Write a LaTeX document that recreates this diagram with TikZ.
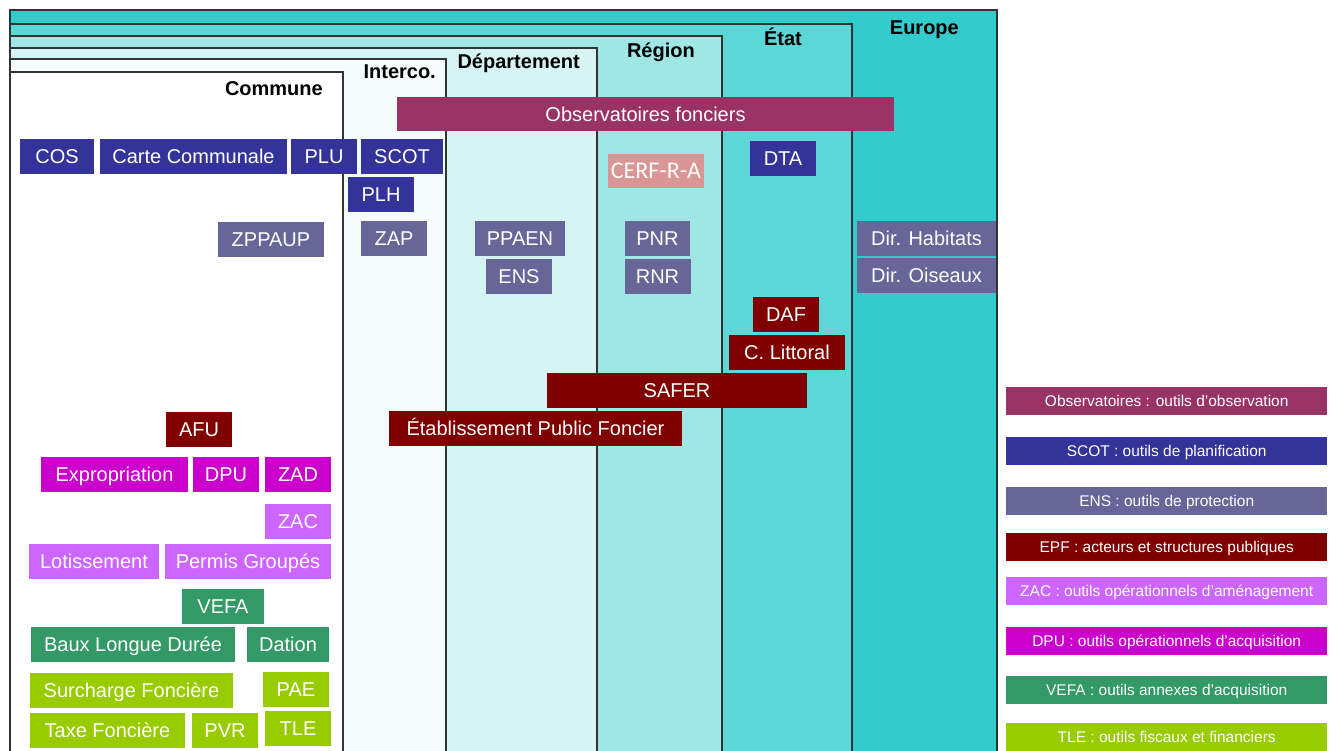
\documentclass[tikz,border=0pt]{standalone}
\usepackage{fontspec}
\setmainfont{Liberation Sans}
\newfontfamily\cerffont{Carlito}
\usetikzlibrary{positioning}

\definecolor{europe}{HTML}{33CCCC}
\definecolor{etat}{HTML}{5CD6D6}
\definecolor{region}{HTML}{9FE6E5}
\definecolor{depart}{HTML}{D6F4F4}
\definecolor{interco}{HTML}{F4FCFC}
\definecolor{obscol}{HTML}{993366}
\definecolor{plancol}{HTML}{333399}
\definecolor{protcol}{HTML}{666699}
\definecolor{actcol}{HTML}{800000}
\definecolor{amecol}{HTML}{CC66FF}
\definecolor{acqcol}{HTML}{CC00CC}
\definecolor{annexcol}{HTML}{339966}
\definecolor{fisccol}{HTML}{99CC00}
\definecolor{cerfcol}{HTML}{D99694}

\begin{document}
\begin{tikzpicture}[x=1pt,y=-1pt,
  level/.style={draw=black!80,line width=1.2pt},
  lvlname/.style={anchor=base east,inner sep=0pt,font=\fontsize{20}{24}\selectfont\bfseries},
  tool/.style={rectangle,inner sep=0pt,outer sep=0pt,minimum height=35pt,
    text height=14.3pt,text depth=0pt,text=white,font=\fontsize{20}{24}\selectfont},
  obs/.style={tool,fill=obscol},
  plan/.style={tool,fill=plancol},
  prot/.style={tool,fill=protcol},
  act/.style={tool,fill=actcol},
  ame/.style={tool,fill=amecol},
  acq/.style={tool,fill=acqcol},
  annex/.style={tool,fill=annexcol},
  fisc/.style={tool,fill=fisccol},
  key/.style={rectangle,inner sep=0pt,minimum width=321pt,minimum height=28pt,anchor=north west,
    text height=11.1pt,text depth=0pt,text=white,font=\fontsize{15.5}{18}\selectfont}]

  \useasboundingbox (0,0) rectangle (1336,751);

  % nested levels
  \filldraw[level,fill=europe]  (10,10) rectangle (997,765);
  \filldraw[level,fill=etat]    (10,24) rectangle (852,765);
  \filldraw[level,fill=region]  (10,36) rectangle (722,765);
  \filldraw[level,fill=depart]  (10,48) rectangle (597,765);
  \filldraw[level,fill=interco] (10,59) rectangle (446,765);
  \filldraw[level,fill=white]   (10,72) rectangle (343,765);

  \node[lvlname] (europe)  at (959,35)   {Europe};
  \node[lvlname] (etat)    at (802,45.5) {État};
  \node[lvlname] (region)  at (695,58)   {Région};
  \node[lvlname] (depart)  at (580,69)   {Département};
  \node[lvlname] (interco) at (436,79)   {Interco.};
  \node[lvlname] (commune) at (323,96)   {Commune};

  % observation
  \node[obs,anchor=north west,minimum width=497pt,minimum height=34pt] (obsf) at (397,97) {Observatoires fonciers};

  % planification
  \node[plan,anchor=north west,minimum width=74pt] (cos) at (20,139) {COS};
  \node[plan,minimum width=187pt] (carte) [right=6pt of cos] {Carte Communale};
  \node[plan,minimum width=66pt] (plu) [right=4pt of carte] {PLU};
  \node[plan,minimum width=82pt] (scot) [right=4pt of plu] {SCOT};
  \node[plan,anchor=north west,minimum width=66pt] (plh) at (348,177) {PLH};
  \node[plan,anchor=north west,minimum width=66pt] (dta) at (750,141) {DTA};
  \node[tool,fill=cerfcol,anchor=north west,minimum width=96pt,minimum height=34pt,
    text height=15pt,font=\cerffont\fontsize{24}{28}\selectfont] (cerf) at (608,154) {CERF-R-A};

  % protection
  \node[prot,anchor=north west,minimum width=106pt] (zppaup) at (218,222) {ZPPAUP};
  \node[prot,anchor=north west,minimum width=66pt] (zap) at (361,221) {ZAP};
  \node[prot,anchor=north west,minimum width=90pt] (ppaen) at (475,221) {PPAEN};
  \node[prot,anchor=north west,minimum width=66pt] (ens) at (486,259) {ENS};
  \node[prot,anchor=north west,minimum width=65pt] (pnr) at (625,221) {PNR};
  \node[prot,minimum width=66pt] (rnr) [below=3pt of pnr] {RNR};
  \node[prot,anchor=north west,minimum width=139pt] (dirhab) at (857,221) {Dir. Habitats};
  \node[prot,minimum width=139pt] (diroiseaux) [below=2pt of dirhab] {Dir. Oiseaux};

  % acteurs
  \node[act,anchor=north west,minimum width=66pt] (daf) at (753,297) {DAF};
  \node[act,anchor=north west,minimum width=116pt] (littoral) at (729,335) {C. Littoral};
  \node[act,anchor=north west,minimum width=260pt] (safer) at (547,373) {SAFER};
  \node[act,anchor=north west,minimum width=293pt] (epf) at (389,411) {Établissement Public Foncier};
  \node[act,anchor=north west,minimum width=66pt] (afu) at (166,412) {AFU};

  % acquisition / amenagement
  \node[acq,anchor=north west,minimum width=147pt] (expro) at (41,457) {Expropriation};
  \node[acq,minimum width=66pt] (dpu) [right=5pt of expro] {DPU};
  \node[acq,minimum width=66pt] (zad) [right=6pt of dpu] {ZAD};
  \node[ame,minimum width=66pt] (zac) [below=12pt of zad] {ZAC};
  \node[ame,anchor=north west,minimum width=130pt] (lotis) at (29,544) {Lotissement};
  \node[ame,minimum width=166pt] (permis) [right=6pt of lotis] {Permis Groupés};

  % annexes
  \node[annex,anchor=north west,minimum width=82pt] (vefa) at (182,589) {VEFA};
  \node[annex,anchor=north west,minimum width=204pt] (baux) at (31,627) {Baux Longue Durée};
  \node[annex,minimum width=82pt] (dation) [right=12pt of baux] {Dation};

  % fiscal
  \node[fisc,anchor=north west,minimum width=203pt] (surch) at (30,673) {Surcharge Foncière};
  \node[fisc,anchor=north west,minimum width=66pt] (pae) at (263,672) {PAE};
  \node[fisc,anchor=north west,minimum width=155pt] (taxe) at (30,713) {Taxe Foncière};
  \node[fisc,minimum width=66pt] (pvr) [right=7pt of taxe] {PVR};
  \node[fisc,anchor=north west,minimum width=66pt] (tle) at (265,711) {TLE};

  % legend
  \node[key,fill=obscol]   (kobs)   at (1006,387) {Observatoires : outils d’observation};
  \node[key,fill=plancol]  (kplan)  at (1006,437) {SCOT : outils de planification};
  \node[key,fill=protcol]  (kprot)  at (1006,487) {ENS : outils de protection};
  \node[key,fill=actcol]   (kact)   at (1006,533) {EPF : acteurs et structures publiques};
  \node[key,fill=amecol]   (kame)   at (1006,577) {ZAC : outils opérationnels d’aménagement};
  \node[key,fill=acqcol]   (kacq)   at (1006,627) {DPU : outils opérationnels d’acquisition};
  \node[key,fill=annexcol] (kannex) at (1006,676) {VEFA : outils annexes d’acquisition};
  \node[key,fill=fisccol]  (kfisc)  at (1006,723) {TLE : outils fiscaux et financiers};
\end{tikzpicture}
\end{document}
